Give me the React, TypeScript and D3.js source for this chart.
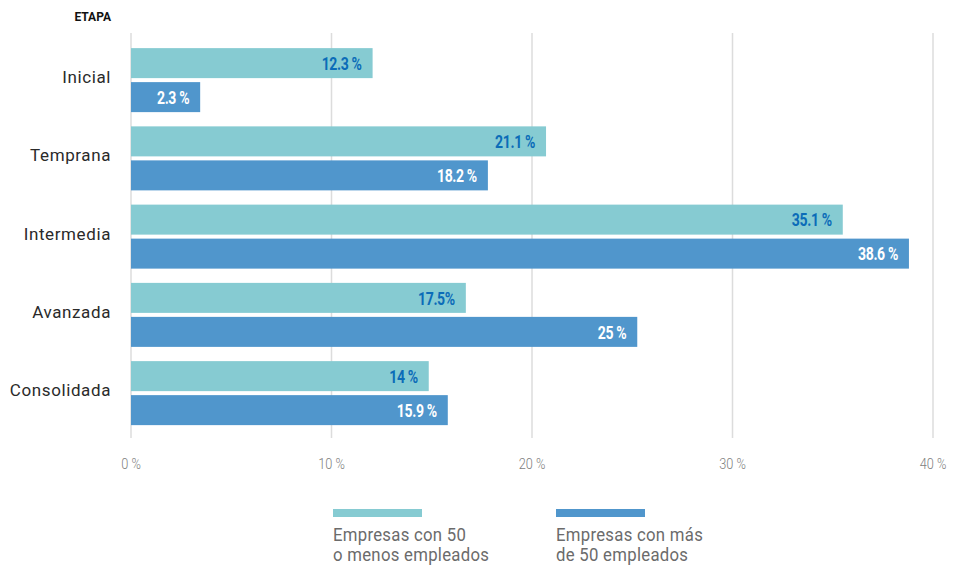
import React from "react";
import * as d3 from "d3";

const categories = ["Inicial", "Temprana", "Intermedia", "Avanzada", "Consolidada"];
const seriesNames = ["Empresas con 50\no menos empleados", "Empresas con más\nde 50 empleados"];
// bar lengths as drawn in the reference (percent)
const small = [12.05, 20.7, 35.5, 16.7, 14.85];
const large = [3.45, 17.8, 38.8, 25.25, 15.8];
// printed labels
const smallLabels = ["12.3 %", "21.1 %", "35.1 %", "17.5%", "14 %"];
const largeLabels = ["2.3 %", "18.2 %", "38.6 %", "25 %", "15.9 %"];
const ticks = [0, 10, 20, 30, 40];

const colors = ["#86cbd2", "#5096cc"];
const labelColors = ["#0b6cb8", "#ffffff"];

export default function App() {
  const W = 960, H = 567;
  const x = d3.scaleLinear().domain([0, 40]).range([131, 933]);
  const y = d3.scaleBand<string>().domain(categories).range([41, 41 + 5 * 78.25]).paddingInner(14.25 / 78.25).paddingOuter(0.091);
  const inner = d3.scaleBand<number>().domain([0, 1]).range([0, y.bandwidth()]).paddingInner(0.1176);
  const series = [small, large];
  const labels = [smallLabels, largeLabels];
  const font = "Roboto, 'Noto Sans', sans-serif";

  return (
    <svg width={W} height={H} style={{ position: "absolute", left: 0, top: 0, background: "#fff" }}>
      <text x={111} y={21} textAnchor="end" fontFamily={font} fontWeight={700} fontSize={12} fill="#111">ETAPA</text>
      {ticks.map((t) => (
        <g key={t}>
          <line x1={x(t)} x2={x(t)} y1={33} y2={438} stroke="#dcdcdc" strokeWidth={1.5} />
          <text transform={`translate(${x(t)},469) scale(0.85,1)`} textAnchor="middle" fontFamily={font} fontWeight={300} fontSize={15} fill="#7d7d7d">{`${t} %`}</text>
        </g>
      ))}
      {categories.map((c, i) => (
        <g key={c} transform={`translate(0,${y(c)})`}>
          <text x={111} y={y.bandwidth() / 2 + 3} textAnchor="end" fontFamily={font} fontSize={17} letterSpacing={0.6} fill="#2a2a2a">{c}</text>
          {series.map((s, k) => (
            <g key={k}>
              <rect x={x(0)} y={inner(k)} width={x(s[i]) - x(0)} height={inner.bandwidth()} fill={colors[k]} />
              <text transform={`translate(${x(s[i]) - 11},${(inner(k) as number) + inner.bandwidth() / 2 + 6.8}) scale(0.74,1)`} textAnchor="end" fontFamily={font} fontWeight={700} fontSize={19} letterSpacing={-0.5} fill={labelColors[k]}>{labels[k][i]}</text>
            </g>
          ))}
        </g>
      ))}
      {seriesNames.map((n, k) => {
        const lx = k === 0 ? 333 : 556;
        return (
          <g key={k}>
            <rect x={lx} y={509} width={89} height={8} fill={colors[k]} />
            {n.split("\n").map((line, j) => (
              <text key={j} transform={`translate(${lx},${541 + j * 20}) scale(0.93,1)`} fontFamily={font} fontSize={18} letterSpacing={0.3} fill="#6b6b6b">{line}</text>
            ))}
          </g>
        );
      })}
    </svg>
  );
}
